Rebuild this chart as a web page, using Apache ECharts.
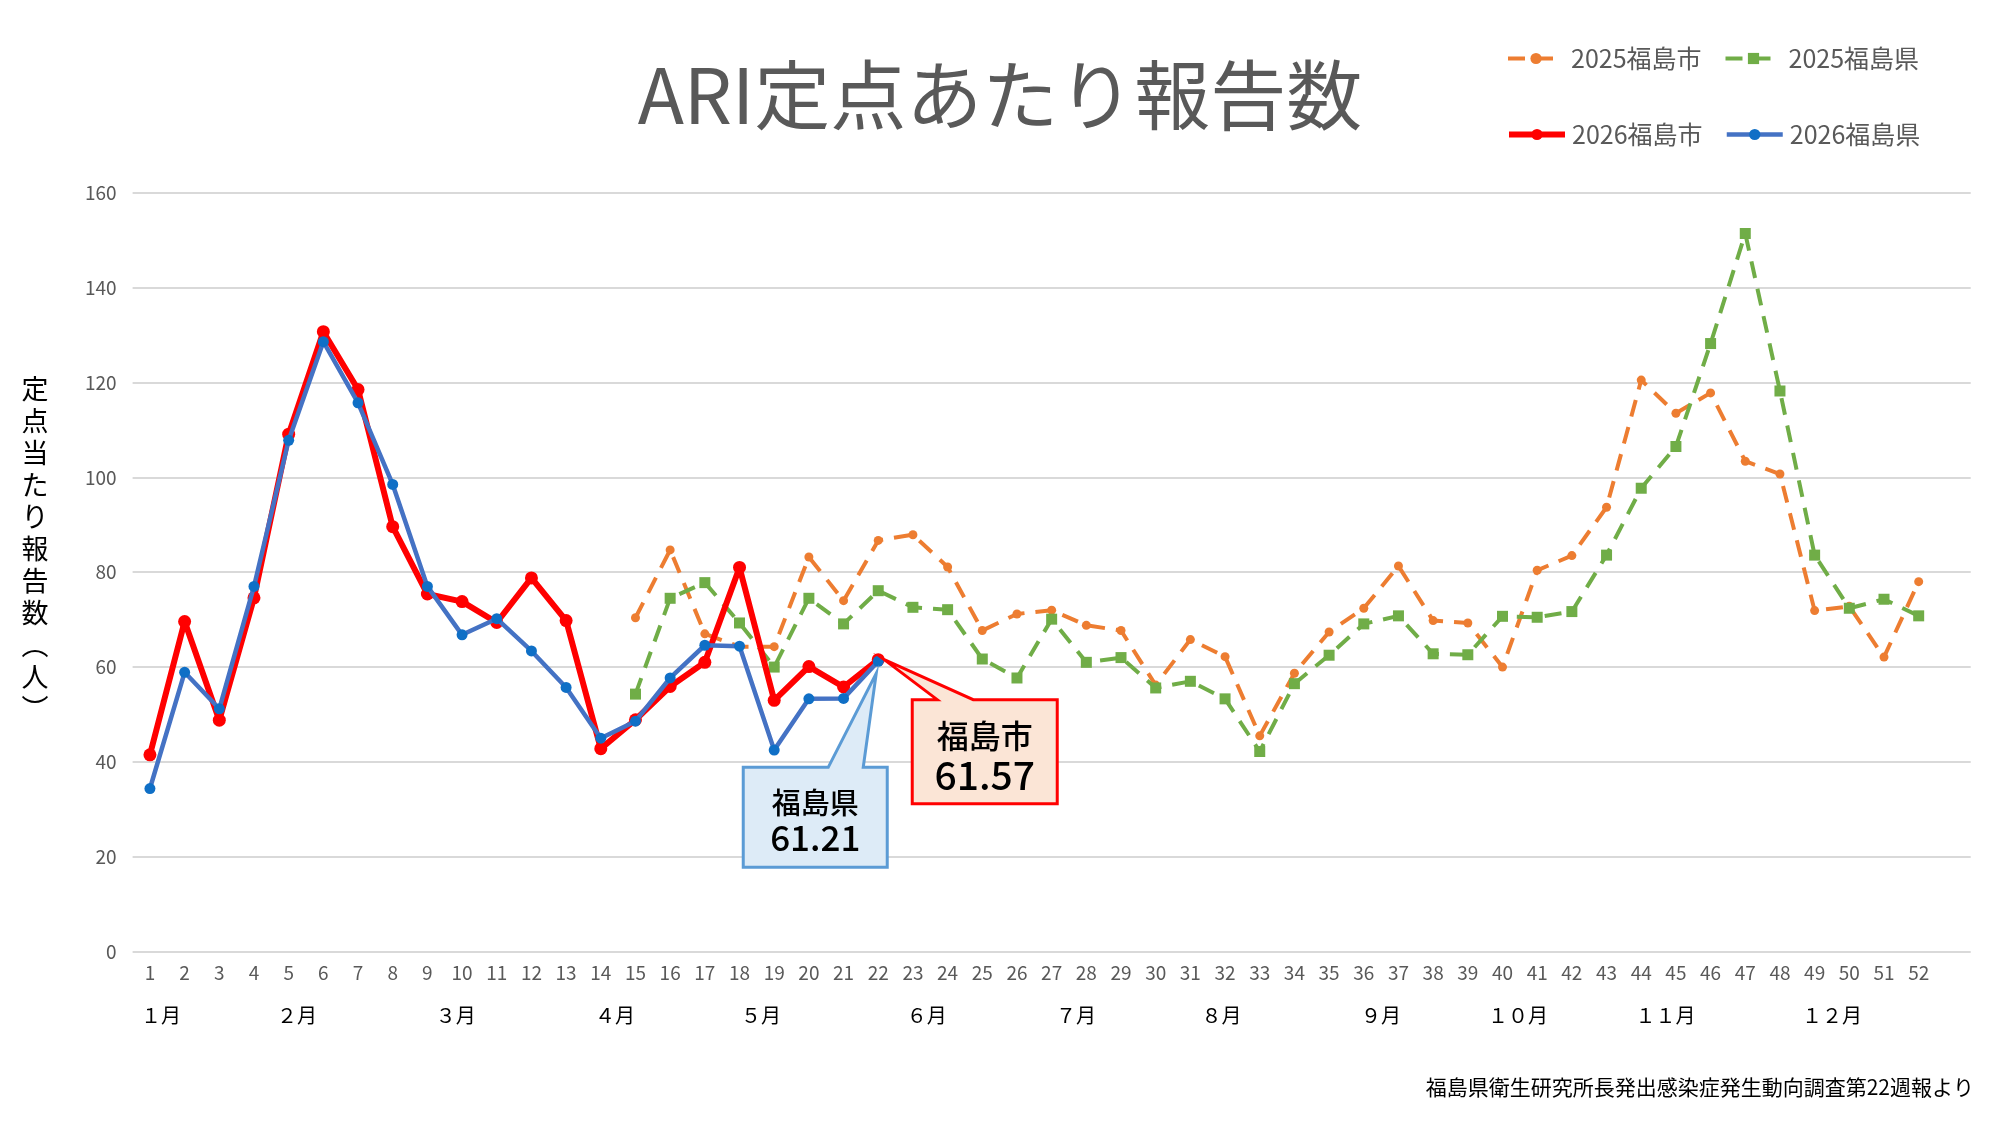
<!DOCTYPE html>
<html><head><meta charset="utf-8">
<script src="https://cdn.jsdelivr.net/npm/echarts@6/dist/echarts.min.js"></script>
<style>html,body{margin:0;padding:0;background:#fff;}#c{width:2000px;height:1139px;}</style>
</head><body><div id="c"></div>
<script>
// ---- data ----
const weeks = ['1','2','3','4','5','6','7','8','9','10','11','12','13','14','15','16','17','18','19','20','21','22','23','24','25','26','27','28','29','30','31','32','33','34','35','36','37','38','39','40','41','42','43','44','45','46','47','48','49','50','51','52',''];
const city2026 = [41.5, 69.6, 48.8, 74.6, 109.1, 130.7, 118.5, 89.6, 75.4, 73.8, 69.4, 78.8, 69.8, 42.8, 48.9, 55.9, 61.0, 81.0, 53.0, 60.1, 55.8, 61.57];
const pref2026 = [34.4, 58.9, 51.2, 77.0, 107.8, 128.6, 115.7, 98.5, 77.0, 66.8, 70.2, 63.4, 55.7, 45.0, 48.6, 57.7, 64.6, 64.4, 42.5, 53.3, 53.4, 61.21];
const firstWeek2025 = 15;
const city2025 = [70.4, 84.7, 67.0, 64.3, 64.3, 83.2, 74.0, 86.7, 87.9, 81.1, 67.7, 71.2, 72.0, 68.8, 67.7, 56.2, 65.8, 62.2, 45.5, 58.7, 67.4, 72.4, 81.3, 69.8, 69.3, 60.0, 80.4, 83.5, 93.7, 120.5, 113.5, 117.8, 103.4, 100.7, 71.9, 72.8, 62.1, 78.0];
const pref2025 = [54.3, 74.5, 77.8, 69.3, 60.0, 74.5, 69.1, 76.1, 72.6, 72.1, 61.7, 57.7, 70.1, 61.0, 62.0, 55.6, 57.0, 53.3, 42.2, 56.5, 62.5, 69.1, 70.8, 62.8, 62.6, 70.7, 70.5, 71.7, 83.6, 97.7, 106.5, 128.2, 151.4, 118.2, 83.6, 72.4, 74.3, 70.8];
const monthNames = ['１月','２月','３月','４月','５月','６月','７月','８月','９月','１０月','１１月','１２月'];
const monthWeeks = [1.32, 5.24, 9.82, 14.41, 18.62, 23.4, 27.7, 31.9, 36.5, 40.45, 44.7, 49.5];
const yTicks = {min: 0, max: 160, interval: 20};
const seriesNames = ['2025福島市','2025福島県','2026福島市','2026福島県'];
const titleText = 'ARI定点あたり報告数';
const yName = '定点当たり報告数（人）';
const sourceText = '福島県衛生研究所長発出感染症発生動向調査第22週報より';
const calloutCity = {label: '福島市', value: city2026[city2026.length - 1]};
const calloutPref = {label: '福島県', value: pref2026[pref2026.length - 1]};

// ---- build ----
const pad = new Array(firstWeek2025 - 1).fill(null);
const c2025 = pad.concat(city2025);
const p2025 = pad.concat(pref2025);
const FONT = '"Noto Sans CJK JP","Noto Sans",sans-serif';
const GRAY = '#595959';
const yNameVertical = yName.replace('（','︵').replace('）','︶').split('').join('\n') + '\n{g|}';

const chart = echarts.init(document.getElementById('c'), null, {renderer: 'canvas'});
const legendCommon = {left: 1501, itemWidth: 56, itemHeight: 14, itemGap: 22,
  lineStyle: {width: 'inherit'},
  textStyle: {fontFamily: FONT, fontSize: 25, color: GRAY, padding: [0, 0, 0, 2]}};
const option = {
  backgroundColor: '#ffffff',
  animation: false,
  textStyle: {fontFamily: FONT},
  title: {
    text: titleText, left: 'center', top: 52,
    textStyle: {fontFamily: FONT, fontSize: 76, fontWeight: 'normal', color: GRAY}
  },
  legend: [
    Object.assign({data: [seriesNames[0], seriesNames[1]], top: 41}, legendCommon),
    Object.assign({data: [seriesNames[2], seriesNames[3]], top: 117}, legendCommon)
  ],
  grid: {left: 132.6, right: 29.3, top: 192.7, bottom: 187.3, containLabel: false},
  xAxis: [
    {type: 'category', data: weeks, boundaryGap: true,
     axisLine: {show: false}, axisTick: {show: false},
     axisLabel: {interval: 0, margin: 12, fontSize: 19, color: GRAY, fontFamily: FONT}},
    {type: 'value', min: 0.5, max: 53.5, position: 'bottom',
     axisLine: {show: false}, axisTick: {show: false}, splitLine: {show: false},
     axisLabel: {customValues: monthWeeks, margin: 54, fontSize: 20, color: '#000', fontFamily: FONT,
       formatter: function (v) { const i = monthWeeks.indexOf(v); return i >= 0 ? monthNames[i] : ''; }}}
  ],
  yAxis: {
    type: 'value', min: yTicks.min, max: yTicks.max, interval: yTicks.interval,
    axisLine: {show: false}, axisTick: {show: false},
    splitLine: {lineStyle: {color: '#D9D9D9', width: 2}},
    axisLabel: {margin: 16, fontSize: 19, color: GRAY, fontFamily: FONT},
    name: yNameVertical, nameLocation: 'middle', nameGap: 84, nameRotate: 0,
    nameTextStyle: {fontSize: 27, color: '#000', lineHeight: 32, fontFamily: FONT,
      rich: {g: {lineHeight: 46, fontSize: 27}}}
  },
  series: [
    {name: seriesNames[0], type: 'line', data: c2025, symbol: 'circle', symbolSize: 9,
     lineStyle: {color: '#ED7D31', width: 4, type: [17, 11]}, itemStyle: {color: '#ED7D31'}, z: 2},
    {name: seriesNames[1], type: 'line', data: p2025, symbol: 'rect', symbolSize: 11,
     lineStyle: {color: '#70AD47', width: 4, type: [17, 11]}, itemStyle: {color: '#70AD47'}, z: 3},
    {name: seriesNames[2], type: 'line', data: city2026, symbol: 'circle', symbolSize: 13,
     lineStyle: {color: '#FF0000', width: 6}, itemStyle: {color: '#FF0000'}, z: 4},
    {name: seriesNames[3], type: 'line', data: pref2026, symbol: 'circle', symbolSize: 11,
     lineStyle: {color: '#4472C4', width: 4.5}, itemStyle: {color: '#0F6FC6'}, z: 5}
  ]
};
chart.setOption(option);

// callouts anchored to the last plotted points via the chart's own scales
function callouts() {
  const ic = city2026.length - 1, ip = pref2026.length - 1;
  const pc = chart.convertToPixel({xAxisIndex: 0, yAxisIndex: 0}, [ic, calloutCity.value]);
  const pp = chart.convertToPixel({xAxisIndex: 0, yAxisIndex: 0}, [ip, calloutPref.value]);
  const cityShape = [[6,0],[95,40],[179,40],[179,144],[34,144],[34,40],[59,40]];
  const prefShape = [[-135,106],[-50,106],[-2,12],[-15,106],[9,106],[9,206],[-135,206]];
  const g = [
    {type: 'text', right: 26, top: 1077, style: {text: sourceText, font: '21px ' + FONT, fill: '#000'}},
    {type: 'polygon', z: 50, shape: {points: cityShape.map(p => [pc[0] + p[0], pc[1] + p[1]])},
     style: {fill: '#FBE5D6', stroke: '#FF0000', lineWidth: 3}},
    {type: 'text', z: 51, x: pc[0] + 106.5, y: pc[1] + 76,
     style: {text: calloutCity.label, font: '500 32px ' + FONT, fill: '#000', align: 'center', verticalAlign: 'middle'}},
    {type: 'text', z: 51, x: pc[0] + 106.5, y: pc[1] + 116,
     style: {text: calloutCity.value.toFixed(2), font: '500 39px ' + FONT, fill: '#000', align: 'center', verticalAlign: 'middle'}},
    {type: 'polygon', z: 50, shape: {points: prefShape.map(p => [pp[0] + p[0], pp[1] + p[1]])},
     style: {fill: '#DDEBF7', stroke: '#5B9BD5', lineWidth: 3}},
    {type: 'text', z: 51, x: pp[0] - 63, y: pp[1] + 142,
     style: {text: calloutPref.label, font: '500 29px ' + FONT, fill: '#000', align: 'center', verticalAlign: 'middle'}},
    {type: 'text', z: 51, x: pp[0] - 63, y: pp[1] + 176,
     style: {text: calloutPref.value.toFixed(2), font: '500 35px ' + FONT, fill: '#000', align: 'center', verticalAlign: 'middle'}}
  ];
  chart.setOption({graphic: g}, {replaceMerge: ['graphic']});
}
callouts();
</script>
</body></html>
